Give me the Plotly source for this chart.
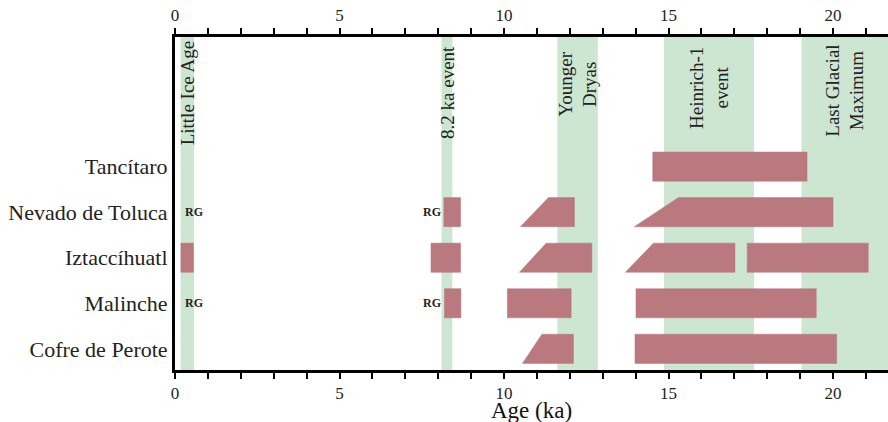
import plotly.graph_objects as go

# ---------------- data ----------------
sites = ["Tancítaro", "Nevado de Toluca", "Iztaccíhuatl", "Malinche", "Cofre de Perote"]

# glacial advances: site, start (top edge), start (bottom edge), end  [ka]
bar_site = ["Tancítaro",
            "Nevado de Toluca", "Nevado de Toluca", "Nevado de Toluca",
            "Iztaccíhuatl", "Iztaccíhuatl", "Iztaccíhuatl", "Iztaccíhuatl", "Iztaccíhuatl",
            "Malinche", "Malinche", "Malinche",
            "Cofre de Perote", "Cofre de Perote"]
bar_start_top = [14.52,
                 8.17, 11.35, 15.30,
                 0.18, 7.78, 11.28, 14.54, 17.39,
                 8.19, 10.10, 14.01,
                 11.15, 13.98]
bar_start_bottom = [14.52,
                    8.17, 10.50, 13.96,
                    0.18, 7.78, 10.47, 13.69, 17.39,
                    8.19, 10.10, 14.01,
                    10.56, 13.98]
bar_end = [19.21,
           8.68, 12.14, 20.00,
           0.56, 8.68, 12.67, 17.02, 21.07,
           8.69, 12.04, 19.49,
           12.11, 20.11]

# climate events (shaded bands)
band_names = ["Little Ice Age", "8.2 ka event", "Younger<br>Dryas", "Heinrich-1<br>event", "Last Glacial<br>Maximum"]
band_start = [0.17, 8.10, 11.62, 14.86, 19.04]
band_end = [0.58, 8.43, 12.85, 17.60, 22.0]

# "RG" markers
rg_site = ["Nevado de Toluca", "Nevado de Toluca", "Malinche", "Malinche"]
rg_age = [0.24, 8.14, 0.24, 8.14]

x_ticks = list(range(0, 22))
x_ticktext = [str(v) if v % 5 == 0 else "" for v in x_ticks]
x_title = "Age (ka)"

# ---------------- style ----------------
BAR = "#B9797E"
GREEN = "#CDE6D2"
FONT = "Liberation Serif"
HALF = 0.32
XMAX = 21.67
label_center_px = [93, 92, 84, 88, 91]  # vertical centre of band labels (px from top)

row_y = {s: len(sites) - i for i, s in enumerate(sites)}

fig = go.Figure()

for s, st, sb, e in zip(bar_site, bar_start_top, bar_start_bottom, bar_end):
    y = row_y[s]
    fig.add_trace(go.Scatter(
        x=[sb, st, e, e, sb],
        y=[y - HALF, y + HALF, y + HALF, y - HALF, y - HALF],
        mode="lines", fill="toself", fillcolor=BAR,
        line=dict(color=BAR, width=0.5), hoverinfo="skip", showlegend=False))

# invisible trace for top axis
fig.add_trace(go.Scatter(x=[0, 21], y=[1, 1], xaxis="x2", mode="markers",
                         marker=dict(opacity=0), showlegend=False, hoverinfo="skip"))

for b0, b1 in zip(band_start, band_end):
    fig.add_shape(type="rect", xref="x", yref="paper", x0=b0, x1=b1, y0=0, y1=1,
                  fillcolor=GREEN, line=dict(width=0), layer="below")

H = 333.0
for name, b0, b1, cpx in zip(band_names, band_start, band_end, label_center_px):
    xc = (b0 + min(b1, XMAX)) / 2
    fig.add_annotation(x=xc, xref="x", y=(370 - cpx) / H, yref="paper",
                       text=name, textangle=-90, showarrow=False,
                       xanchor="center", yanchor="middle", align="center",
                       font=dict(family=FONT, size=19, color="#222222"))

for s, a in zip(rg_site, rg_age):
    fig.add_annotation(x=a, y=row_y[s], xref="x", yref="y", text="<b>RG</b>",
                       showarrow=False, xanchor="left" if a < 1 else "right",
                       yanchor="middle", font=dict(family=FONT, size=12, color="#222222"))

# axis title
fig.add_annotation(x=0.5, xref="paper", y=(370 - 422) / H, yref="paper", text=x_title,
                   showarrow=False, xanchor="center", yanchor="bottom", yshift=-3,
                   font=dict(family=FONT, size=23, color="#111"))

axis_common = dict(range=[0, XMAX], tickvals=x_ticks, ticktext=x_ticktext,
                   ticks="outside", ticklen=6, tickwidth=1.5, tickcolor="#000",
                   showline=True, linecolor="#000", linewidth=3, showgrid=False,
                   zeroline=False, tickfont=dict(family=FONT, size=17, color="#222"))

fig.update_layout(
    width=888, height=422,
    margin=dict(l=175, r=0, t=37, b=52, autoexpand=False),
    paper_bgcolor="white", plot_bgcolor="white",
    xaxis=dict(**axis_common),
    xaxis2=dict(**axis_common, overlaying="x", side="top", matches="x"),
    yaxis=dict(range=[0.535, 7.845], tickvals=[row_y[s] for s in sites], ticktext=sites,
               ticks="", showline=True, linecolor="#000", linewidth=3, showgrid=False,
               zeroline=False, tickfont=dict(family=FONT, size=22, color="#222")),
    showlegend=False,
)

fig.write_html("out.html", config={"displayModeBar": False},
               post_script="document.body.style.margin='0px';")
